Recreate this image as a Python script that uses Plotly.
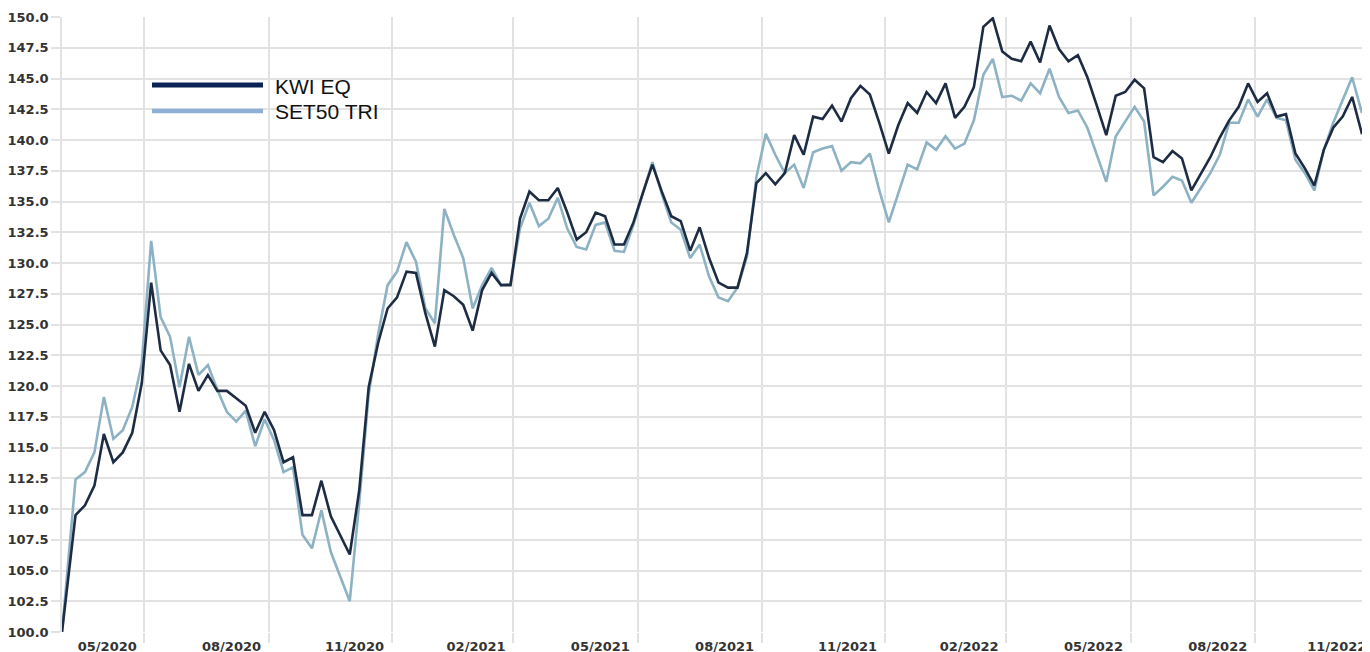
import pandas as pd
import plotly.graph_objects as go

# ---- data (weekly) ----
first_date = "2020-03-31"
weekly_start = "2020-04-10"

kwi_eq = [100.0,
    109.5, 110.3, 111.9, 116.1, 113.8, 114.6, 116.2, 120.2, 128.4, 122.9,
    121.7, 117.9, 121.8, 119.6, 120.9, 119.6, 119.6, 119.0, 118.4, 116.2,
    117.9, 116.4, 113.8, 114.2, 109.5, 109.5, 112.3, 109.4, 107.8, 106.3,
    111.5, 119.9, 123.5, 126.3, 127.2, 129.3, 129.2, 125.9, 123.2, 127.8,
    127.3, 126.6, 124.5, 127.8, 129.2, 128.2, 128.2, 133.6, 135.8, 135.1,
    135.1, 136.1, 134.1, 131.9, 132.5, 134.1, 133.8, 131.5, 131.5, 133.3,
    135.7, 138.0, 135.8, 133.8, 133.4, 131.0, 132.9, 130.4, 128.4, 128.0,
    128.0, 130.8, 136.5, 137.3, 136.4, 137.3, 140.4, 138.8, 141.9, 141.7,
    142.8, 141.5, 143.4, 144.4, 143.7, 141.4, 138.9, 141.2, 143.0, 142.2,
    143.9, 143.0, 144.6, 141.8, 142.7, 144.3, 149.2, 149.9, 147.2, 146.6,
    146.4, 148.0, 146.3, 149.3, 147.4, 146.4, 146.9, 145.1, 142.8, 140.4,
    143.6, 143.9, 144.9, 144.2, 138.6, 138.2, 139.1, 138.5, 135.9, 137.2,
    138.6, 140.2, 141.6, 142.7, 144.6, 143.1, 143.8, 141.9, 142.1, 138.9,
    137.7, 136.3, 139.2, 141.0, 141.9, 143.5, 140.6, 141.2]

set50_tri = [100.0,
    112.4, 113.0, 114.6, 119.1, 115.7, 116.4, 118.3, 121.8, 131.8, 125.6,
    124.0, 119.9, 124.0, 120.9, 121.7, 119.7, 117.9, 117.1, 118.0, 115.1,
    117.3, 115.6, 113.0, 113.4, 107.9, 106.8, 109.9, 106.5, 104.5, 102.5,
    110.5, 119.3, 124.2, 128.2, 129.3, 131.7, 130.1, 126.3, 125.1, 134.4,
    132.3, 130.4, 126.3, 128.2, 129.6, 128.2, 128.3, 132.8, 134.9, 133.0,
    133.6, 135.3, 132.8, 131.3, 131.1, 133.1, 133.3, 131.0, 130.9, 133.1,
    135.7, 138.2, 135.6, 133.3, 132.7, 130.4, 131.5, 128.9, 127.2, 126.9,
    128.0, 130.5, 137.0, 140.5, 138.8, 137.3, 138.0, 136.1, 139.0, 139.3,
    139.5, 137.5, 138.2, 138.1, 138.9, 135.9, 133.3, 135.7, 138.0, 137.6,
    139.8, 139.2, 140.3, 139.3, 139.7, 141.6, 145.3, 146.6, 143.5, 143.6,
    143.2, 144.6, 143.8, 145.8, 143.5, 142.2, 142.4, 141.0, 138.8, 136.6,
    140.3, 141.5, 142.7, 141.5, 135.5, 136.2, 137.0, 136.7, 134.9, 136.1,
    137.3, 138.8, 141.4, 141.4, 143.3, 141.9, 143.3, 141.8, 141.6, 138.4,
    137.3, 135.9, 139.2, 141.4, 143.2, 145.1, 142.3, 142.4]

tick_labels = ["05/2020", "08/2020", "11/2020", "02/2021", "05/2021", "08/2021",
               "11/2021", "02/2022", "05/2022", "08/2022", "11/2022"]

series_names = ["KWI EQ", "SET50 TRI"]

x_range = ["2020-03-31", "2022-11-24 05:00"]

# ---- build dates ----
dates = [pd.Timestamp(first_date)] + list(
    pd.date_range(weekly_start, periods=len(kwi_eq) - 1, freq="7D"))

month_starts = [pd.Timestamp(f"{l[3:]}-{l[:2]}-01") for l in tick_labels]
grid_dates = [d + pd.offsets.MonthEnd(0) for d in month_starts]
last_label_pos = pd.Timestamp(x_range[1]) - pd.Timedelta(hours=590)
label_dates = [min(g - pd.Timedelta(hours=660), last_label_pos) for g in grid_dates]

# ---- style ----
GRID = "#e2e2e2"
DARK = "#1d2c43"
LIGHT = "#8db2c3"
LEG_DARK = "#0b2256"
LEG_LIGHT = "#8fb0d6"
TICKFONT = dict(family="DejaVu Sans, Verdana, sans-serif", size=13, color="#333333",
                weight="bold")

fig = go.Figure()
fig.add_trace(go.Scatter(x=dates, y=set50_tri, mode="lines", name=series_names[1],
                         line=dict(color=LIGHT, width=2.6)))
fig.add_trace(go.Scatter(x=dates, y=kwi_eq, mode="lines", name=series_names[0],
                         line=dict(color=DARK, width=2.6)))

# page body has an 8px default margin, so the figure is sized/offset to compensate
fig.update_layout(
    width=1362, height=644,
    margin=dict(l=54, r=0, t=9, b=20),
    plot_bgcolor="white", paper_bgcolor="white",
    showlegend=False,
    xaxis=dict(
        type="date", automargin=False,
        range=x_range,
        tickmode="array", tickvals=label_dates, ticktext=tick_labels,
        ticklabeloverflow="allow",
        showgrid=False, ticks="outside", ticklen=2, tickcolor="rgba(0,0,0,0)",
        tickfont=TICKFONT, zeroline=False, showline=False,
        minor=dict(tickmode="array", tickvals=grid_dates, showgrid=True,
                   gridcolor=GRID, gridwidth=1.5, ticks="outside", ticklen=10,
                   tickcolor=GRID, tickwidth=1.5),
    ),
    yaxis=dict(
        automargin=False,
        range=[100, 150], tick0=100, dtick=2.5, tickformat=".1f",
        showgrid=True, gridcolor=GRID, gridwidth=1.5,
        ticks="outside", ticklen=9, tickcolor=GRID, tickwidth=1.5,
        showline=True, linecolor=GRID, linewidth=1.5,
        zeroline=False, tickfont=TICKFONT,
    ),
)

# ---- legend drawn as shapes + text (window pixel positions -> paper coords) ----
W, H = 1308, 615
def px_x(p):
    return (p - 62) / W
def px_y(p):
    return (632 - p) / H

for name, col, py, lw in [(series_names[0], LEG_DARK, 85, 5), (series_names[1], LEG_LIGHT, 111, 4.5)]:
    fig.add_shape(type="line", xref="paper", yref="paper",
                  x0=px_x(152), x1=px_x(263), y0=px_y(py), y1=px_y(py),
                  line=dict(color=col, width=lw))
    fig.add_annotation(xref="paper", yref="paper", x=px_x(273), y=px_y(py + 1),
                       text=name, showarrow=False, xanchor="left", yanchor="middle",
                       font=dict(family="Liberation Sans, Arial, sans-serif", size=21, color="#111111"))

fig.write_html("out.html")
